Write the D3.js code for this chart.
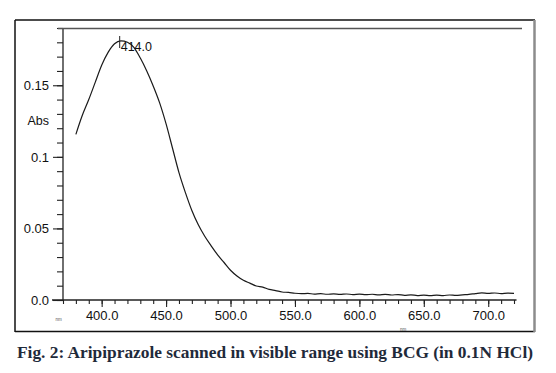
<!DOCTYPE html>
<html>
<head>
<meta charset="utf-8">
<script src="https://cdn.jsdelivr.net/npm/d3@7"></script>
<style>
  body { margin: 0; background: #fff; }
  svg { display: block; }
  .tick text { font-family: "Liberation Sans", Arial, sans-serif; fill: #111; }
</style>
</head>
<body>
<div class="chart"></div>
<script>
// spectrum (nm, absorbance)
var wavelength = [
  380, 385, 390, 395, 400, 405, 410, 415, 420, 425, 430, 435, 440, 445, 450,
  455, 460, 465, 470, 475, 480, 485, 490, 495, 500, 505, 510, 515, 520, 525,
  530, 535, 540, 545, 550, 555, 560, 565, 570, 575, 580, 585, 590, 595, 600,
  605, 610, 615, 620, 625, 630, 635, 640, 645, 650, 655, 660, 665, 670, 675,
  680, 685, 690, 695, 700, 705, 710, 715, 720
];
var absorbance = [
  0.1157, 0.1290, 0.1400, 0.1520, 0.1640, 0.1730, 0.1790, 0.1810, 0.1800, 0.1765, 0.1690, 0.1600, 0.1495, 0.1377, 0.1230,
  0.1060, 0.0890, 0.0750, 0.0625, 0.0525, 0.0445, 0.0378, 0.0315, 0.0262, 0.0208, 0.0168, 0.0138, 0.0118, 0.0098, 0.0090,
  0.0074, 0.0066, 0.0056, 0.0053, 0.0047, 0.0044, 0.0046, 0.0041, 0.0044, 0.0040, 0.0043, 0.0039, 0.0042, 0.0038, 0.0041,
  0.0037, 0.0040, 0.0036, 0.0039, 0.0035, 0.0038, 0.0033, 0.0036, 0.0031, 0.0034, 0.0030, 0.0034, 0.0031, 0.0035, 0.0032,
  0.0036, 0.0039, 0.0045, 0.0050, 0.0046, 0.0049, 0.0045, 0.0048, 0.0046
];
var xMajorTicks = [400, 450, 500, 550, 600, 650, 700];
var yMajorTicks = [0, 0.05, 0.1, 0.15];
var yTickLabels = ["0.0", "0.05", "0.1", "0.15"];
var peakWavelength = 414;
var peakLabel = "414.0";
var caption = "Fig. 2: Aripiprazole scanned in visible range using BCG (in 0.1N HCl)";

var svgWidth = 556;
var svgHeight = 373;

var svg = d3.select(".chart")
  .append("svg")
  .attr("width", svgWidth)
  .attr("height", svgHeight);

svg.append("rect")
  .attr("width", svgWidth)
  .attr("height", svgHeight)
  .attr("fill", "#fff");

// scales
var xScale = d3.scaleLinear().domain([370, 720]).range([63, 514]);
var yScale = d3.scaleLinear().domain([0, 0.19]).range([300, 28]);

// outer frame of the figure
svg.append("line").attr("x1", 15).attr("x2", 15).attr("y1", 20).attr("y2", 332)
  .attr("stroke", "#111").attr("stroke-width", 1.5);
svg.append("line").attr("x1", 15).attr("x2", 535).attr("y1", 20).attr("y2", 20)
  .attr("stroke", "#111").attr("stroke-width", 1.5);
svg.append("line").attr("x1", 15).attr("x2", 535).attr("y1", 331.5).attr("y2", 331.5)
  .attr("stroke", "#111").attr("stroke-width", 1.5);
svg.append("line").attr("x1", 534.5).attr("x2", 534.5).attr("y1", 20).attr("y2", 332)
  .attr("stroke", "#8c8c8c").attr("stroke-width", 2.5);

// y axis: minor ticks then major ticks with labels
svg.append("g")
  .attr("transform", "translate(63,0)")
  .call(d3.axisLeft(yScale)
    .tickValues(d3.range(0, 0.1901, 0.01))
    .tickSize(6)
    .tickFormat(""));

svg.append("g")
  .attr("transform", "translate(63,0)")
  .call(d3.axisLeft(yScale)
    .tickValues(yMajorTicks)
    .tickSize(10)
    .tickPadding(4)
    .tickFormat((d, i) => yTickLabels[i]));

// x axis
svg.append("g")
  .attr("transform", "translate(0,300)")
  .call(d3.axisBottom(xScale)
    .tickValues(d3.range(370, 721, 10))
    .tickSize(4)
    .tickFormat(""));

svg.append("g")
  .attr("transform", "translate(0,300)")
  .call(d3.axisBottom(xScale)
    .tickValues(xMajorTicks)
    .tickSize(7)
    .tickPadding(4)
    .tickFormat(d3.format(".1f")));

svg.selectAll(".domain").remove();
svg.selectAll(".tick line").attr("stroke", "#222").attr("stroke-width", 1.1);
svg.selectAll(".tick text").attr("font-size", 13);

// axis lines and the top line of the plot
svg.append("line").attr("x1", 63).attr("x2", 63).attr("y1", 28).attr("y2", 300)
  .attr("stroke", "#222").attr("stroke-width", 1.3);
svg.append("line").attr("x1", 52).attr("x2", 516.5).attr("y1", 300).attr("y2", 300)
  .attr("stroke", "#222").attr("stroke-width", 1.3);
svg.append("line").attr("x1", 58).attr("x2", 522).attr("y1", 28.5).attr("y2", 28.5)
  .attr("stroke", "#555").attr("stroke-width", 1.6);

// axis title
svg.append("text")
  .attr("x", 49)
  .attr("y", 125)
  .attr("text-anchor", "end")
  .attr("font-family", "Liberation Sans, Arial, sans-serif")
  .attr("font-size", 12.5)
  .attr("fill", "#111")
  .text("Abs");

// tiny unit marks from the scan
svg.append("text").attr("x", 55.5).attr("y", 321)
  .attr("font-family", "Liberation Sans, Arial, sans-serif")
  .attr("font-size", 4.5).attr("fill", "#555").text("nm");
svg.append("text").attr("x", 400).attr("y", 331)
  .attr("font-family", "Liberation Sans, Arial, sans-serif")
  .attr("font-size", 4.5).attr("fill", "#555").text("nm");

// spectrum line
var spectrum = wavelength.map((w, i) => ({ nm: w, abs: absorbance[i] }));

var line = d3.line()
  .curve(d3.curveMonotoneX)
  .x(d => xScale(d.nm))
  .y(d => yScale(d.abs));

svg.append("path")
  .datum(spectrum)
  .attr("fill", "none")
  .attr("stroke", "#1a1a1a")
  .attr("stroke-width", 1.2)
  .attr("stroke-linejoin", "round")
  .attr("d", line);

// peak marker
svg.append("line")
  .attr("x1", xScale(peakWavelength)).attr("x2", xScale(peakWavelength))
  .attr("y1", 36).attr("y2", 48)
  .attr("stroke", "#222").attr("stroke-width", 1);

svg.append("text")
  .attr("x", xScale(peakWavelength) + 1)
  .attr("y", 51)
  .attr("font-family", "Liberation Sans, Arial, sans-serif")
  .attr("font-size", 12.5)
  .attr("fill", "#111")
  .text(peakLabel);

// caption
svg.append("text")
  .attr("x", 17)
  .attr("y", 357.5)
  .attr("font-family", "Liberation Serif, DejaVu Serif, serif")
  .attr("font-weight", "bold")
  .attr("font-size", 17)
  .attr("fill", "#1f2a3a")
  .attr("textLength", 516)
  .attr("lengthAdjust", "spacingAndGlyphs")
  .text(caption);
</script>
</body>
</html>
